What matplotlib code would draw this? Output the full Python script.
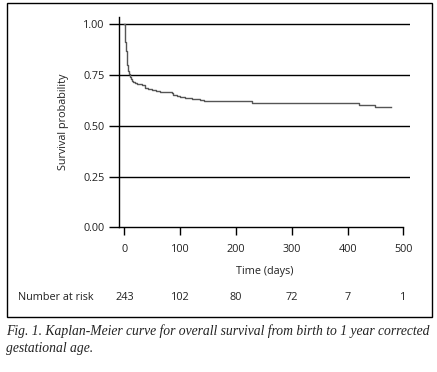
import matplotlib
matplotlib.use("Agg")
import matplotlib.pyplot as plt
from matplotlib.patches import Rectangle

# Kaplan-Meier estimate (days, survival probability)
times = [0, 1, 2, 3, 4, 5, 6, 7, 8, 10, 12, 14, 16, 19, 22, 26, 31, 37, 43,
         49, 56, 64, 74, 85, 88, 95, 100, 108, 115, 122, 127, 135, 142, 228,
         421, 449]
surv = [1.0, 0.95, 0.91, 0.87, 0.83, 0.80, 0.785, 0.77, 0.755, 0.74, 0.73,
        0.72, 0.715, 0.71, 0.706, 0.703, 0.700, 0.686, 0.682, 0.678, 0.672,
        0.667, 0.664, 0.660, 0.650, 0.645, 0.640, 0.637, 0.634, 0.631, 0.629,
        0.626, 0.623, 0.613, 0.603, 0.592]
last_followup = 478

risk_times = [0, 100, 200, 300, 400, 500]
n_at_risk = [243, 102, 80, 72, 7, 1]
y_ticks = [0.00, 0.25, 0.50, 0.75, 1.00]

caption = ("Fig. 1. Kaplan-Meier curve for overall survival from birth to 1 year corrected\n"
           "gestational age.")

plt.rcParams['font.family'] = ['Open Sans', 'DejaVu Sans']
txt = '#222222'
fs = 7.8

fig = plt.figure(figsize=(4.37, 3.72), dpi=100)
W, H = 437, 372

# outer frame round the chart panel
fig.patches.append(Rectangle((7 / W, 1 - 317 / H), 425 / W, 314 / H,
                             transform=fig.transFigure, fill=False,
                             edgecolor='black', linewidth=1.0))

ax = fig.add_axes([119.3 / W, 1 - 227.3 / H, 290.7 / W, 210.3 / H])

# curve
ax.step(times + [last_followup], surv + [surv[-1]], where='post',
        color='#555555', linewidth=1.0, zorder=3)

ax.set_xlim(-9, 512)
ax.set_ylim(0, 1.035)

for yv in y_ticks[1:]:
    ax.axhline(yv, color='black', linewidth=1.0, zorder=1)

for s in ['top', 'right']:
    ax.spines[s].set_visible(False)
ax.spines['left'].set_linewidth(1.0)
ax.spines['bottom'].set_linewidth(1.0)
ax.spines['bottom'].set_bounds(-9, 500)

ax.set_yticks(y_ticks)
ax.set_yticklabels([f"{v:.2f}" for v in y_ticks])
ax.set_xticks(risk_times)
ax.tick_params(axis='both', direction='out', length=6, width=1.0,
               labelsize=fs, labelcolor=txt, colors='black', pad=6)
ax.tick_params(axis='y', length=7.5, pad=3)

ax.set_xlabel('Time (days)', fontsize=fs, color=txt, labelpad=8)
ax.set_ylabel('Survival probability', fontsize=fs, color=txt, labelpad=10)

# number at risk table
risk_y = 1 - 297 / H
fig.text(18 / W, risk_y, 'Number at risk', fontsize=fs, color=txt,
         ha='left', va='center')
for t, n in zip(risk_times, n_at_risk):
    xf = fig.transFigure.inverted().transform(ax.transData.transform((t, 0)))[0]
    fig.text(xf, risk_y, str(n), fontsize=fs, color=txt,
             ha='center', va='center')

fig.text(6 / W, 1 - 324 / H, caption, fontsize=9.8, color=txt,
         family='Liberation Serif', style='italic', ha='left', va='top',
         linespacing=1.45)

fig.savefig('out.png', dpi=100)
